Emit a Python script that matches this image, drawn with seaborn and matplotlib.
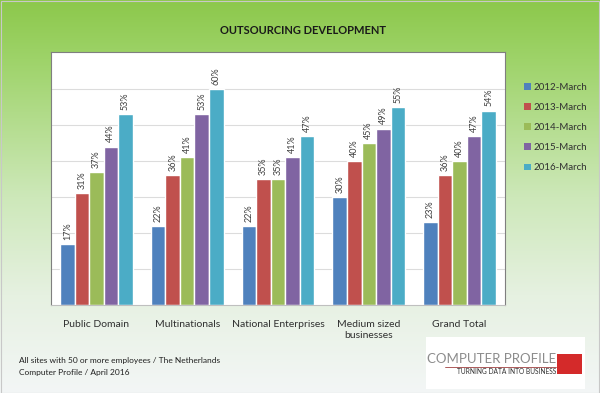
import numpy as np
import pandas as pd
import matplotlib
matplotlib.use("Agg")
import matplotlib.pyplot as plt
from matplotlib.patches import Rectangle, Patch
import seaborn as sns

# ---- data ----
categories = ["Public Domain", "Multinationals", "National Enterprises",
              "Medium sized\nbusinesses", "Grand Total"]
series_names = ["2012-March", "2013-March", "2014-March", "2015-March", "2016-March"]
v2012 = [17, 22, 22, 30, 23]
v2013 = [31, 36, 35, 40, 36]
v2014 = [37, 41, 35, 45, 40]
v2015 = [44, 53, 41, 49, 47]
v2016 = [53, 60, 47, 55, 54]
title = "OUTSOURCING DEVELOPMENT"
footnote1 = "All sites with 50 or more employees / The Netherlands"
footnote2 = "Computer Profile / April 2016"

colors = ["#4F81BD", "#C0504D", "#9BBB59", "#8064A2", "#4BACC6"]

rows = []
for name, vals in zip(series_names, [v2012, v2013, v2014, v2015, v2016]):
    for c, v in zip(categories, vals):
        rows.append({"Category": c, "Year": name, "Value": v})
df = pd.DataFrame(rows)

sns.set_theme(style="white")
plt.rcParams["font.family"] = ["Lato", "DejaVu Sans"]

W, H = 600, 393
fig = plt.figure(figsize=(6.0, 3.93), dpi=100)

# background gradient
bg = fig.add_axes([0, 0, 1, 1], zorder=-10)
ys = np.linspace(0, 1, 400)
stops = [0.0, 0.15, 0.5, 0.75, 1.0]
rr = np.interp(ys, stops, [140, 158, 205, 230, 243])
gg = np.interp(ys, stops, [200, 211, 232, 241, 246])
bb = np.interp(ys, stops, [75, 105, 185, 225, 246])
grad = np.stack([rr, gg, bb], axis=1)[:, None, :] / 255.0
bg.imshow(grad, aspect="auto", extent=[0, 1, 0, 1], origin="upper")
bg.set_xlim(0, 1); bg.set_ylim(0, 1)
bg.axis("off")

# main axes
L, R, T, B = 51, 505, 52, 305
ax = fig.add_axes([L / W, 1 - B / H, (R - L) / W, (B - T) / H])
ax.set_facecolor("white")
sns.barplot(data=df, x="Category", y="Value", hue="Year", palette=colors,
            order=categories, hue_order=series_names, width=0.8,
            saturation=1, ax=ax, legend=False, errorbar=None)
ax.set_ylim(0, 70.3)
ax.set_yticks(np.arange(10, 61, 10))
ax.yaxis.grid(True, color="#dcdcdc", linewidth=0.8)
ax.set_axisbelow(True)
ax.tick_params(axis="y", left=False, labelleft=False)
ax.tick_params(axis="x", bottom=False, labelsize=7.5, colors="#303030", pad=5)
ax.set_xlabel(""); ax.set_ylabel("")
for s in ["left", "right", "top"]:
    ax.spines[s].set_color("#7f7f7f")
    ax.spines[s].set_linewidth(0.8)
ax.spines["bottom"].set_color("#bfbfbf")
ax.spines["bottom"].set_linewidth(0.8)

for cont in ax.containers:
    ax.bar_label(cont, fmt="{:.0f}%", rotation=90, padding=3,
                 fontsize=6.5, color="#404040")

# legend
handles = [Patch(facecolor=c, edgecolor="none") for c in colors]
fig.legend(handles, series_names, loc="upper left",
           bbox_to_anchor=(515 / W, 1 - 74 / H), frameon=False,
           fontsize=7, handlelength=0.7, handleheight=0.7,
           handletextpad=0.3, labelspacing=1.15, labelcolor="#303030")

# title
fig.text(303 / W, 1 - 31 / H, title, ha="center", va="center",
         fontsize=8.0, fontweight="bold", color="#1a1a1a")

# footnotes
fig.text(19 / W, 1 - 360 / H, footnote1, ha="left", va="center",
         fontsize=6, color="#202020")
fig.text(19 / W, 1 - 373 / H, footnote2, ha="left", va="center",
         fontsize=6, color="#202020")

# logo
fig.patches.append(Rectangle((426 / W, 1 - 389 / H), (585 - 426) / W, (389 - 337) / H,
                             transform=fig.transFigure, facecolor="white",
                             edgecolor="none", zorder=1))
fig.text(427 / W, 1 - 359 / H, "COMPUTER PROFILE", ha="left", va="center",
         fontsize=9.5, color="#8c8c8c", zorder=2)
fig.lines.append(plt.Line2D([445 / W, 556 / W], [1 - 366.5 / H, 1 - 366.5 / H],
                            transform=fig.transFigure, color="#a04040",
                            linewidth=0.6, zorder=2))
fig.text(556 / W, 1 - 372 / H, "TURNING DATA INTO BUSINESS", ha="right", va="center",
         fontsize=4.8, color="#303030", zorder=2)
fig.patches.append(Rectangle((557 / W, 1 - 374 / H), 25 / W, 20 / H,
                             transform=fig.transFigure, facecolor="#D42A2A",
                             edgecolor="none", zorder=2))

# outer frame
fig.patches.append(Rectangle((0.5 / W, 0.5 / H), 1 - 1.5 / W, 1 - 1.5 / H,
                             transform=fig.transFigure, facecolor="none",
                             edgecolor="#c8c8c8", linewidth=0.8, zorder=5))

fig.savefig("out.png", dpi=100)
